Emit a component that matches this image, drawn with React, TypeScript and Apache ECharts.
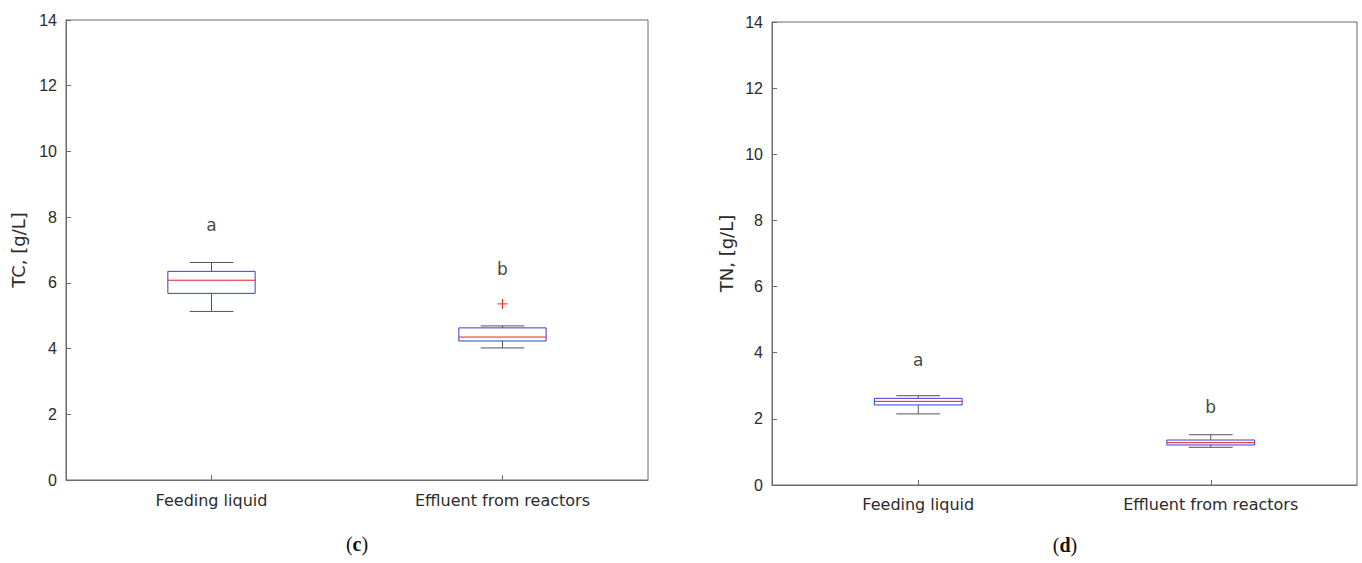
import React, { useEffect, useRef } from "react";
import * as echarts from "echarts";

const categories = ["Feeding liquid", "Effluent from reactors"];
// [min whisker, Q1, median, Q3, max whisker]
const tcStats = [
  [5.13, 5.68, 6.08, 6.35, 6.62],
  [4.02, 4.23, 4.35, 4.63, 4.69],
];
const tcOutliers = [[1, 5.36]];
const tcLetters = ["a", "b"];
const tcLetterY = [7.76, 6.42];

const tnStats = [
  [2.15, 2.42, 2.53, 2.62, 2.7],
  [1.14, 1.21, 1.28, 1.36, 1.52],
];
const tnLetters = ["a", "b"];
const tnLetterY = [3.78, 2.36];

const yTicks = [0, 2, 4, 6, 8, 10, 12, 14];

const FONT = "'Liberation Sans', Arial, Helvetica, sans-serif";
const WIDE = "'DejaVu Sans', 'Liberation Sans', sans-serif";
const AXIS_COLOR = "#6b6b6b";
const TEXT_COLOR = "#2b2b2b";

function boxRender(params: any, api: any) {
  const idx = api.value(0);
  const lo = api.value(1);
  const q1 = api.value(2);
  const med = api.value(3);
  const q3 = api.value(4);
  const hi = api.value(5);
  const band = api.size([1, 0])[0];
  const bw = band * 0.3;
  const cw = band * 0.15;
  const pLo = api.coord([idx, lo]);
  const pQ1 = api.coord([idx, q1]);
  const pMed = api.coord([idx, med]);
  const pQ3 = api.coord([idx, q3]);
  const pHi = api.coord([idx, hi]);
  const x = pMed[0];
  const whisk = { stroke: "#555555", lineWidth: 1 };
  return {
    type: "group",
    children: [
      { type: "line", shape: { x1: x, y1: pHi[1], x2: x, y2: pQ3[1] }, style: whisk },
      { type: "line", shape: { x1: x, y1: pLo[1], x2: x, y2: pQ1[1] }, style: whisk },
      { type: "line", shape: { x1: x - cw / 2, y1: pHi[1], x2: x + cw / 2, y2: pHi[1] }, style: whisk },
      { type: "line", shape: { x1: x - cw / 2, y1: pLo[1], x2: x + cw / 2, y2: pLo[1] }, style: whisk },
      {
        type: "rect",
        shape: { x: x - bw / 2, y: pQ3[1], width: bw, height: pQ1[1] - pQ3[1] },
        style: { fill: "none", stroke: "#3a3ae0", lineWidth: 1 },
      },
      {
        type: "line",
        shape: { x1: x - bw / 2, y1: pMed[1], x2: x + bw / 2, y2: pMed[1] },
        style: { stroke: "#e02020", lineWidth: 1 },
      },
    ],
  };
}

function outlierRender(params: any, api: any) {
  const p = api.coord([api.value(0), api.value(1)]);
  const s = 5;
  const st = { stroke: "#ee2222", lineWidth: 1 };
  return {
    type: "group",
    children: [
      { type: "line", shape: { x1: p[0] - s, y1: p[1], x2: p[0] + s, y2: p[1] }, style: st },
      { type: "line", shape: { x1: p[0], y1: p[1] - s, x2: p[0], y2: p[1] + s }, style: st },
    ],
  };
}

function makeAxes(gridIndex: number, name: string, xMargin: number, nameGap: number) {
  const xAxis = {
    type: "category",
    gridIndex,
    data: categories,
    boundaryGap: true,
    axisLine: { show: true, lineStyle: { color: AXIS_COLOR } },
    axisTick: { show: true, inside: true, alignWithLabel: true, length: 5, lineStyle: { color: AXIS_COLOR } },
    axisLabel: { color: TEXT_COLOR, fontFamily: WIDE, fontSize: 16, margin: xMargin },
    splitLine: { show: false },
  };
  const yAxis = {
    type: "value",
    gridIndex,
    min: 0,
    max: 14,
    interval: 2,
    name,
    nameLocation: "middle",
    nameGap,
    nameTextStyle: { color: TEXT_COLOR, fontFamily: WIDE, fontSize: 18 },
    axisLine: { show: true, lineStyle: { color: AXIS_COLOR } },
    axisTick: { show: true, inside: true, length: 5, lineStyle: { color: AXIS_COLOR } },
    axisLabel: {
      color: TEXT_COLOR,
      fontFamily: FONT,
      fontSize: 16,
      margin: 9,
      formatter: (v: number) => (yTicks.includes(v) ? String(v) : ""),
    },
    splitLine: { show: false },
  };
  return { xAxis, yAxis };
}

export default function App() {
  const ref = useRef<HTMLDivElement>(null);
  useEffect(() => {
    if (!ref.current) return;
    const chart = echarts.init(ref.current, undefined, { renderer: "svg" });
    const a1 = makeAxes(0, "TC, [g/L]", 12, 39);
    const a2 = makeAxes(1, "TN, [g/L]", 11, 37);
    const letterSeries = (xi: number, letters: string[], ys: number[]) => ({
      type: "scatter",
      xAxisIndex: xi,
      yAxisIndex: xi,
      symbolSize: 0,
      data: letters.map((l, i) => ({ value: [i, ys[i]], name: l })),
      label: {
        show: true,
        position: "inside",
        formatter: (p: any) => p.name,
        color: "#111",
        fontFamily: WIDE,
        fontSize: 17,
      },
      silent: true,
    });
    const serif = "'Liberation Serif', 'DejaVu Serif', serif";
    chart.setOption({
      animation: false,
      backgroundColor: "#ffffff",
      grid: [
        { left: 66, top: 20, width: 582, height: 460, show: true, borderColor: AXIS_COLOR, borderWidth: 1, backgroundColor: "transparent" },
        { left: 772, top: 22, width: 585, height: 463, show: true, borderColor: AXIS_COLOR, borderWidth: 1, backgroundColor: "transparent" },
      ],
      xAxis: [a1.xAxis, a2.xAxis],
      yAxis: [a1.yAxis, a2.yAxis],
      series: [
        {
          type: "custom",
          xAxisIndex: 0,
          yAxisIndex: 0,
          renderItem: boxRender,
          data: tcStats.map((s, i) => [i, ...s]),
          encode: { x: 0, y: [1, 2, 3, 4, 5] },
          silent: true,
        },
        {
          type: "custom",
          xAxisIndex: 0,
          yAxisIndex: 0,
          renderItem: outlierRender,
          data: tcOutliers,
          encode: { x: 0, y: 1 },
          silent: true,
        },
        letterSeries(0, tcLetters, tcLetterY),
        {
          type: "custom",
          xAxisIndex: 1,
          yAxisIndex: 1,
          renderItem: boxRender,
          data: tnStats.map((s, i) => [i, ...s]),
          encode: { x: 0, y: [1, 2, 3, 4, 5] },
          silent: true,
        },
        letterSeries(1, tnLetters, tnLetterY),
      ],
      graphic: [
        {
          type: "text",
          x: 357,
          y: 544,
          style: {
            text: "({b|c})",
            fontFamily: serif,
            fontSize: 20,
            fill: "#111",
            align: "center",
            verticalAlign: "middle",
            rich: { b: { fontWeight: "bold", fontSize: 20, fontFamily: serif } },
          },
        },
        {
          type: "text",
          x: 1065,
          y: 545,
          style: {
            text: "({b|d})",
            fontFamily: serif,
            fontSize: 20,
            fill: "#111",
            align: "center",
            verticalAlign: "middle",
            rich: { b: { fontWeight: "bold", fontSize: 20, fontFamily: serif } },
          },
        },
      ],
    });
    return () => chart.dispose();
  }, []);
  return (
    <div
      ref={ref}
      style={{ position: "fixed", left: 0, top: 0, width: 1362, height: 563, background: "#fff" }}
    />
  );
}
